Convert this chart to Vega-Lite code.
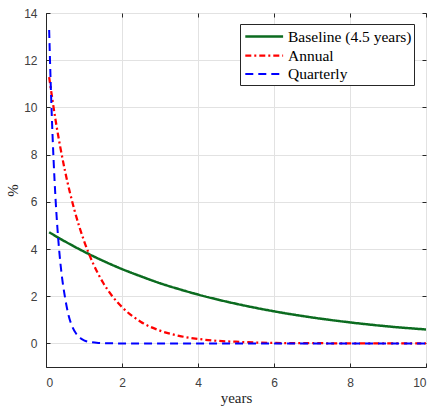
{
  "$schema": "https://vega.github.io/schema/vega-lite/v6.json",
  "width": 380,
  "height": 354,
  "autosize": "none",
  "padding": {"left": 46, "top": 13, "right": 8, "bottom": 40},
  "background": "white",
  "config": {"view": {"stroke": "#262626", "strokeWidth": 1}},
  "data": {"values": [
    {"series": "Baseline (4.5 years)", "t": 0.083, "v": 4.71},
    {"series": "Baseline (4.5 years)", "t": 0.5, "v": 4.32},
    {"series": "Baseline (4.5 years)", "t": 1, "v": 3.89},
    {"series": "Baseline (4.5 years)", "t": 1.5, "v": 3.50},
    {"series": "Baseline (4.5 years)", "t": 2, "v": 3.15},
    {"series": "Baseline (4.5 years)", "t": 2.5, "v": 2.84},
    {"series": "Baseline (4.5 years)", "t": 3, "v": 2.55},
    {"series": "Baseline (4.5 years)", "t": 3.5, "v": 2.30},
    {"series": "Baseline (4.5 years)", "t": 4, "v": 2.07},
    {"series": "Baseline (4.5 years)", "t": 5, "v": 1.68},
    {"series": "Baseline (4.5 years)", "t": 6, "v": 1.36},
    {"series": "Baseline (4.5 years)", "t": 7, "v": 1.10},
    {"series": "Baseline (4.5 years)", "t": 8, "v": 0.89},
    {"series": "Baseline (4.5 years)", "t": 9, "v": 0.72},
    {"series": "Baseline (4.5 years)", "t": 10, "v": 0.59},
    {"series": "Annual", "t": 0.083, "v": 11.28},
    {"series": "Annual", "t": 0.25, "v": 9.48},
    {"series": "Annual", "t": 0.5, "v": 7.31},
    {"series": "Annual", "t": 0.75, "v": 5.64},
    {"series": "Annual", "t": 1, "v": 4.35},
    {"series": "Annual", "t": 1.25, "v": 3.35},
    {"series": "Annual", "t": 1.5, "v": 2.58},
    {"series": "Annual", "t": 1.75, "v": 1.99},
    {"series": "Annual", "t": 2, "v": 1.54},
    {"series": "Annual", "t": 2.5, "v": 0.91},
    {"series": "Annual", "t": 3, "v": 0.54},
    {"series": "Annual", "t": 3.5, "v": 0.32},
    {"series": "Annual", "t": 4, "v": 0.19},
    {"series": "Annual", "t": 4.5, "v": 0.11},
    {"series": "Annual", "t": 5, "v": 0.07},
    {"series": "Annual", "t": 6, "v": 0.02},
    {"series": "Annual", "t": 7, "v": 0.01},
    {"series": "Annual", "t": 8, "v": 0},
    {"series": "Annual", "t": 10, "v": 0},
    {"series": "Quarterly", "t": 0.083, "v": 13.28},
    {"series": "Quarterly", "t": 0.125, "v": 10.95},
    {"series": "Quarterly", "t": 0.15, "v": 9.76},
    {"series": "Quarterly", "t": 0.2, "v": 7.76},
    {"series": "Quarterly", "t": 0.25, "v": 6.16},
    {"series": "Quarterly", "t": 0.3, "v": 4.90},
    {"series": "Quarterly", "t": 0.35, "v": 3.89},
    {"series": "Quarterly", "t": 0.4, "v": 3.09},
    {"series": "Quarterly", "t": 0.5, "v": 1.95},
    {"series": "Quarterly", "t": 0.6, "v": 1.15},
    {"series": "Quarterly", "t": 0.7, "v": 0.68},
    {"series": "Quarterly", "t": 0.8, "v": 0.40},
    {"series": "Quarterly", "t": 0.9, "v": 0.23},
    {"series": "Quarterly", "t": 1.0, "v": 0.13},
    {"series": "Quarterly", "t": 1.2, "v": 0.05},
    {"series": "Quarterly", "t": 1.4, "v": 0.02},
    {"series": "Quarterly", "t": 1.7, "v": 0.005},
    {"series": "Quarterly", "t": 2, "v": 0},
    {"series": "Quarterly", "t": 3, "v": 0},
    {"series": "Quarterly", "t": 10, "v": 0}
  ]},
  "resolve": {"axis": {"x": "independent", "y": "independent"}},
  "layer": [
    {
      "mark": {"type": "line", "clip": true, "interpolate": "monotone"},
      "encoding": {
        "x": {
          "field": "t", "type": "quantitative",
          "scale": {"domain": [0, 10], "nice": false},
          "axis": {
            "values": [0, 2, 4, 6, 8, 10], "format": "d",
            "title": "years", "titleFont": "Liberation Serif", "titleFontSize": 15, "titleFontWeight": "normal", "titleColor": "#262626", "titlePadding": 2,
            "labelFont": "Liberation Sans", "labelFontSize": 12, "labelColor": "#404040", "labelPadding": 14,
            "tickSize": -4, "tickColor": "#262626", "domainColor": "#262626",
            "grid": true, "gridColor": "#e2e2e2"
          }
        },
        "y": {
          "field": "v", "type": "quantitative",
          "scale": {"domain": [-1, 14], "nice": false, "zero": false},
          "axis": {
            "values": [0, 2, 4, 6, 8, 10, 12, 14], "format": "d",
            "title": "%", "titleFont": "Liberation Serif", "titleFontSize": 15, "titleFontWeight": "normal", "titleColor": "#262626", "titlePadding": 3,
            "labelFont": "Liberation Sans", "labelFontSize": 12, "labelColor": "#404040", "labelPadding": 13,
            "tickSize": -4, "tickColor": "#262626", "domainColor": "#262626",
            "grid": true, "gridColor": "#e2e2e2"
          }
        },
        "color": {
          "field": "series", "type": "nominal",
          "scale": {"domain": ["Baseline (4.5 years)", "Annual", "Quarterly"], "range": ["#0b6b1f", "#ff0000", "#0000ff"]},
          "legend": {
            "title": null, "orient": "none", "legendX": 194, "legendY": 11,
            "fillColor": "white", "strokeColor": "#262626", "padding": 2,
            "symbolType": "M-0.8,0H3.4", "symbolSize": 324, "symbolStrokeWidth": 2.5, "symbolFillColor": "transparent",
            "labelFont": "Liberation Serif", "labelFontSize": 15.5, "labelColor": "black", "labelOffset": 25,
            "rowPadding": 0
          }
        },
        "strokeDash": {
          "field": "series", "type": "nominal",
          "scale": {"domain": ["Baseline (4.5 years)", "Annual", "Quarterly"], "range": [[1, 0], [6, 3, 2, 3], [8, 5]]},
          "legend": {"title": null}
        },
        "strokeWidth": {
          "field": "series", "type": "nominal",
          "scale": {"domain": ["Baseline (4.5 years)", "Annual", "Quarterly"], "range": [2.5, 2, 2.5]},
          "legend": {"title": null}
        }
      }
    },
    {
      "mark": {"type": "line", "opacity": 0},
      "encoding": {
        "x": {
          "field": "t", "type": "quantitative",
          "axis": {"orient": "top", "values": [0, 2, 4, 6, 8, 10], "labels": false, "title": null, "grid": false, "domain": false, "tickSize": -4, "tickColor": "#262626"}
        },
        "y": {
          "field": "v", "type": "quantitative",
          "axis": {"orient": "right", "values": [0, 2, 4, 6, 8, 10, 12, 14], "labels": false, "title": null, "grid": false, "domain": false, "tickSize": -4, "tickColor": "#262626"}
        },
        "detail": {"field": "series"}
      }
    }
  ]
}
